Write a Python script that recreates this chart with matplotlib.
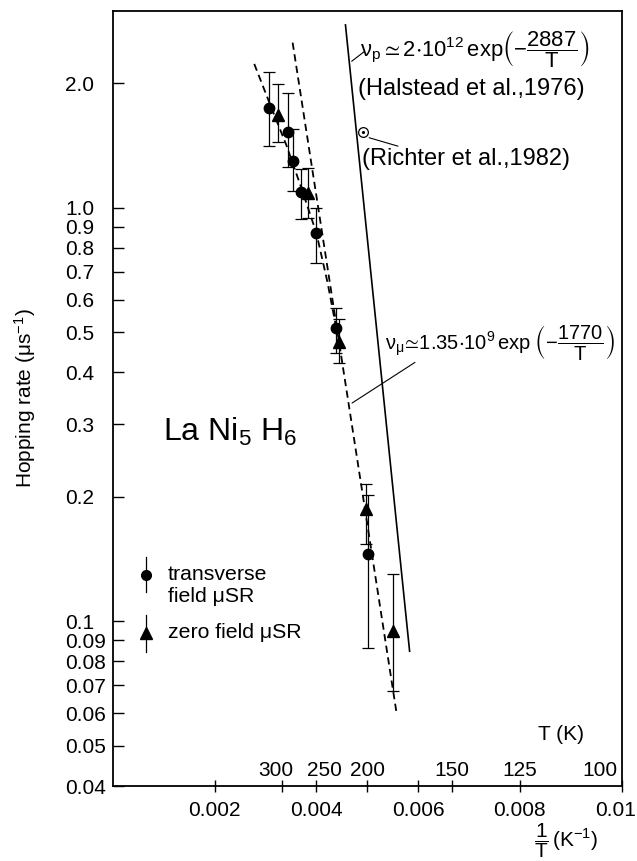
import matplotlib
matplotlib.use("Agg")
import matplotlib.pyplot as plt
import matplotlib.transforms as mtransforms
from matplotlib.ticker import FixedLocator, FixedFormatter, NullFormatter

plt.rcParams["font.family"] = ["Liberation Sans", "DejaVu Sans"]
plt.rcParams["mathtext.fontset"] = "custom"
plt.rcParams["mathtext.rm"] = "Liberation Sans"
plt.rcParams["mathtext.it"] = "Liberation Sans:italic"
plt.rcParams["mathtext.sf"] = "Liberation Sans"
plt.rcParams["mathtext.default"] = "regular"
plt.rcParams["mathtext.fallback"] = "stixsans"

# ---------------- data ----------------
# transverse field muSR (circles)
tf_x = [0.003077, 0.003445, 0.003535, 0.003701, 0.003996, 0.004390, 0.005012]
tf_y = [1.746, 1.522, 1.299, 1.093, 0.870, 0.5125, 0.1458]
tf_lo = [1.410, 1.257, 1.098, 0.939, 0.735, 0.445, 0.0864]
tf_hi = [2.134, 1.891, 1.550, 1.241, 0.998, 0.573, 0.2018]

# zero field muSR (triangles)
zf_x = [0.003248, 0.003839, 0.004455, 0.004967, 0.005512]
zf_y = [1.676, 1.087, 0.474, 0.1874, 0.0947]
zf_lo = [1.442, 0.944, 0.4217, 0.1536, 0.068]
zf_hi = [1.992, 1.247, 0.538, 0.2145, 0.1304]

# proton hopping (Halstead et al., 1976), solid line
halstead_x = [0.004573, 0.005833]
halstead_y = [2.767, 0.0847]

# muon hopping fit, dashed straight line
mufit_x = [0.003535, 0.005571]
mufit_y = [2.507, 0.0607]

# dashed guide through high-temperature data
guide_x = [0.002781, 0.003096, 0.003411, 0.003707, 0.004002, 0.004219, 0.004396]
guide_y = [2.227, 1.772, 1.418, 1.116, 0.8685, 0.661, 0.5087]

# Richter et al., 1982 point
richter_x = [0.004913]
richter_y = [1.525]

# axis ticks
y_ticks = [0.04, 0.05, 0.06, 0.07, 0.08, 0.09, 0.1, 0.2, 0.3, 0.4, 0.5,
           0.6, 0.7, 0.8, 0.9, 1.0, 2.0]
y_ticklabels = ["0.04", "0.05", "0.06", "0.07", "0.08", "0.09", "0.1", "0.2",
                "0.3", "0.4", "0.5", "0.6", "0.7", "0.8", "0.9", "1.0", "2.0"]
x_ticks = [0.002, 0.004, 0.006, 0.008, 0.01]
x_ticklabels = ["0.002", "0.004", "0.006", "0.008", "0.01"]
T_values = [300, 250, 200, 150, 125, 100]
T_labels = ["300", "250", "200", "150", "125", "100"]

# ---------------- figure ----------------
W, H = 637, 861
fig = plt.figure(figsize=(W / 100, H / 100), dpi=100)
ax_l, ax_r, ax_t, ax_b = 112.7, 621.7, 11.0, 786.0
ax = fig.add_axes([ax_l / W, 1 - ax_b / H, (ax_r - ax_l) / W, (ax_b - ax_t) / H])


def ftext(xp, yp, s, **kw):
    return fig.text(xp / W, 1 - yp / H, s, **kw)


def fpt(xp, yp):
    """pixel -> figure fraction"""
    return (xp / W, 1 - yp / H)


ax.set_yscale("log")
ax.set_xlim(0, 0.01)
ax.set_ylim(0.04, 2.99)

# lines
ax.plot(halstead_x, halstead_y, color="black", lw=1.2)
ax.plot(mufit_x, mufit_y, color="black", lw=1.3, ls=(0, (4, 2.5)))
ax.plot(guide_x, guide_y, color="black", lw=1.3, ls=(0, (4, 2.5)))

# data with error bars
tf_err = [[y - lo for y, lo in zip(tf_y, tf_lo)], [hi - y for y, hi in zip(tf_y, tf_hi)]]
zf_err = [[y - lo for y, lo in zip(zf_y, zf_lo)], [hi - y for y, hi in zip(zf_y, zf_hi)]]
ax.errorbar(tf_x, tf_y, yerr=tf_err, fmt="o", color="black", ms=7.5,
            elinewidth=0.9, capsize=4, capthick=0.9, zorder=4)
ax.errorbar(zf_x, zf_y, yerr=zf_err, fmt="^", color="black", ms=9,
            elinewidth=0.9, capsize=4, capthick=0.9, zorder=4)

# Richter point (open circle with dot)
ax.plot(richter_x, richter_y, "o", mfc="white", mec="black", ms=7, mew=0.9, zorder=5)
ax.plot(richter_x, richter_y, ".", color="black", ms=2.5, zorder=6)

# leader lines
ax.annotate("", xy=(0.004652, 2.239), xytext=(0.004986, 2.408),
            arrowprops=dict(arrowstyle="-", lw=0.8, color="black"))
ax.annotate("", xy=(0.004986, 1.483), xytext=(0.005656, 1.403),
            arrowprops=dict(arrowstyle="-", lw=0.8, color="black"))
ax.annotate("", xy=(0.004657, 0.3344), xytext=(0.005984, 0.4264),
            arrowprops=dict(arrowstyle="-", lw=0.8, color="black"))

# ticks
ax.yaxis.set_major_locator(FixedLocator(y_ticks))
ax.yaxis.set_major_formatter(FixedFormatter(y_ticklabels))
ax.yaxis.set_minor_locator(FixedLocator([]))
ax.yaxis.set_minor_formatter(NullFormatter())
ax.xaxis.set_major_locator(FixedLocator(x_ticks))
ax.xaxis.set_major_formatter(FixedFormatter(x_ticklabels))
ax.xaxis.set_minor_locator(FixedLocator([1.0 / t for t in T_values]))
ax.xaxis.set_minor_formatter(NullFormatter())

# y tick labels are left-aligned at ~x=65 px in the reference
ax.tick_params(axis="y", which="major", direction="in", length=8, width=1.0,
               labelsize=15, pad=(ax_l - 65) * 0.72, right=False)
for lab in ax.get_yticklabels():
    lab.set_horizontalalignment("left")
ax.tick_params(axis="x", which="both", direction="inout", length=9, width=1.0,
               labelsize=15, pad=6.0, top=False)
for sp in ax.spines.values():
    sp.set_linewidth(1.3)

# keep the last x tick label ("0.01") inside the picture
fig.canvas.draw()
xlabs = ax.get_xticklabels()
xlabs[-1].set_transform(xlabs[-1].get_transform() +
                        mtransforms.ScaledTranslation(-6 / 100, 0, fig.dpi_scale_trans))

# temperature labels inside the axes
trans = mtransforms.blended_transform_factory(ax.transData, ax.transAxes)
T_offsets = {300: (-7, "center"), 250: (8, "center"), 200: (0, "center"),
             150: (0, "center"), 125: (0, "center"), 100: (-4, "right")}
for t, lab in zip(T_values, T_labels):
    dx, ha = T_offsets[t]
    ax.annotate(lab, xy=(1.0 / t, 0.0206), xycoords=trans,
                xytext=(dx * 0.72, 0), textcoords="offset points",
                ha=ha, va="center", fontsize=15)
ftext(561, 735, "T (K)", ha="center", va="center", fontsize=15)

# axis labels
ftext(25, 398, r"Hopping rate ($\mu$s$^{-1}$)", rotation=90, ha="center",
      va="center", fontsize=15)
ftext(566, 841, r"$\dfrac{1}{T}\,$(K$^{-1}$)", ha="center", va="center", fontsize=15)

# annotations
ftext(360, 50, r"$\nu_\mathrm{p}\simeq2{\cdot}10^{12}\,\mathrm{exp}\left(-\dfrac{2887}{T}\right)$",
      ha="left", va="center", fontsize=15.8)
ftext(358, 89, "(Halstead et al.,1976)", ha="left", va="center", fontsize=17)
ftext(362, 159, "(Richter et al.,1982)", ha="left", va="center", fontsize=17)
ftext(385, 343, r"$\nu_\mu\!\simeq\!1.35{\cdot}10^{9}\,\mathrm{exp}\;\left(-\dfrac{1770}{T}\right)$",
      ha="left", va="center", fontsize=14.5)
ftext(163, 432, r"La Ni$_5$ H$_6$", ha="left", va="center", fontsize=23)

# legend (drawn by hand like the reference)
fig.add_artist(plt.Line2D([fpt(146, 557)[0]] * 2, [fpt(146, 557)[1], fpt(146, 592)[1]],
                          color="black", lw=0.9))
fig.add_artist(plt.Line2D([fpt(146, 575)[0]], [fpt(146, 575)[1]], marker="o",
                          color="black", ms=7))
ftext(168, 575, "transverse", ha="left", va="center", fontsize=15.3)
ftext(168, 597, "field \u03bcSR", ha="left", va="center", fontsize=15.3)
fig.add_artist(plt.Line2D([fpt(146, 615)[0]] * 2, [fpt(146, 615)[1], fpt(146, 652)[1]],
                          color="black", lw=0.9))
fig.add_artist(plt.Line2D([fpt(146, 633)[0]], [fpt(146, 633)[1]], marker="^",
                          color="black", ms=9))
ftext(168, 633, "zero field \u03bcSR", ha="left", va="center", fontsize=15.3)

fig.savefig("out.png", dpi=100)
